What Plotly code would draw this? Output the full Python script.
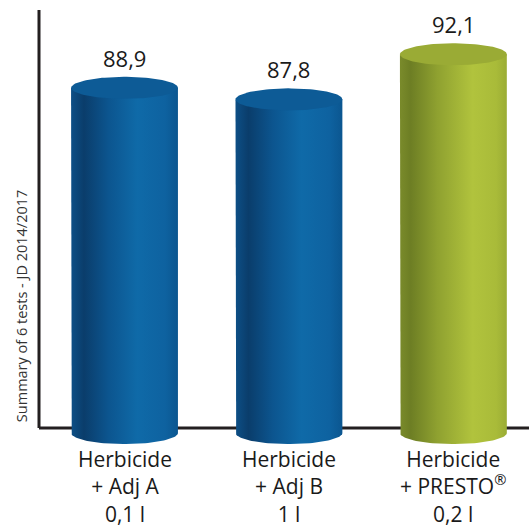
import numpy as np
import plotly.graph_objects as go

# ---- data ----
categories = ["Herbicide<br>+ Adj A<br>0,1 l",
              "Herbicide<br>+ Adj B<br>1 l",
              "Herbicide<br>+ PRESTO<sup>®</sup><br>0,2 l"]
values = [88.9, 87.8, 92.1]
y_title = "Summary of 6 tests - JD 2014/2017"

# ---- style ----
BASE = 56.0          # axis value at bar bottoms
BAR_W = 0.65         # bar width (x units)
CAP_RY = 1.05        # ellipse vertical radius (y units)
blue_body = [[0.0, "#0d4f86"], [0.12, "#0a3d6b"], [0.35, "#0c558f"],
             [0.62, "#0f6aa8"], [0.88, "#0e62a0"], [1.0, "#0b5690"]]
green_body = [[0.0, "#7a8b2b"], [0.10, "#6d7e24"], [0.35, "#8fa130"],
              [0.68, "#b1c33d"], [0.90, "#a9bb39"], [1.0, "#9aac34"]]
blue_cap = "#0d5b96"
green_cap = "#9aab35"
body_scales = [blue_body, blue_body, green_body]
cap_colors = [blue_cap, blue_cap, green_cap]
FONT = "Open Sans"
TXT = "#1a1a1a"

fig = go.Figure()
t_half = np.linspace(np.pi, 2 * np.pi, 60)   # lower half ellipse
t_full = np.linspace(0, 2 * np.pi, 120)

for i, v in enumerate(values):
    cx = i
    rx = BAR_W / 2
    # body: left side, lower half ellipse at base, right side
    bx = np.concatenate([[cx - rx], cx + rx * np.cos(t_half), [cx + rx, cx - rx]])
    by = np.concatenate([[v], BASE + CAP_RY * np.sin(t_half), [v, v]])
    fig.add_trace(go.Scatter(
        x=bx, y=by, mode="lines", fill="toself", line=dict(width=0),
        fillgradient=dict(type="horizontal", colorscale=body_scales[i]),
        hoverinfo="skip", showlegend=False))
    # top cap
    fig.add_trace(go.Scatter(
        x=cx + rx * np.cos(t_full), y=v + CAP_RY * np.sin(t_full),
        mode="lines", fill="toself", line=dict(width=0),
        fillcolor=cap_colors[i], hoverinfo="skip", showlegend=False))
    # value label
    fig.add_annotation(x=cx, y=v + CAP_RY, xref="x", yref="y",
                       text=f"{v:.1f}".replace(".", ","), showarrow=False,
                       yanchor="bottom", yshift=2,
                       font=dict(family=FONT, size=22, color=TXT))
    # category label
    fig.add_annotation(x=cx, y=0.005, xref="x", yref="paper",
                       text=categories[i], showarrow=False,
                       yanchor="top", align="center", yshift=5,
                       font=dict(family=FONT, size=21, color=TXT))

# axes lines
fig.add_shape(type="line", xref="paper", yref="paper", x0=0, x1=1,
              y0=0.05, y1=0.05, line=dict(color="#231f20", width=3), layer="below")
fig.add_shape(type="line", xref="paper", yref="paper", x0=0, x1=0,
              y0=0.05, y1=1.0, line=dict(color="#231f20", width=3), layer="below")

fig.add_annotation(x=-0.0367, y=0.327, xref="paper", yref="paper",
                   text=y_title, textangle=-90, showarrow=False,
                   xanchor="center", yanchor="middle",
                   font=dict(family=FONT, size=14.5, color="#333333"))

fig.update_xaxes(range=[-0.52, 2.46], visible=False, fixedrange=True)
fig.update_yaxes(range=[54.38, 96.32], visible=False, fixedrange=True)
fig.update_layout(width=529, height=527,
                  margin=dict(l=39, r=0, t=10, b=77),
                  plot_bgcolor="white", paper_bgcolor="white",
                  showlegend=False)

fig.write_html("out.html", config={"displayModeBar": False},
               post_script="document.body.style.margin='0';")
